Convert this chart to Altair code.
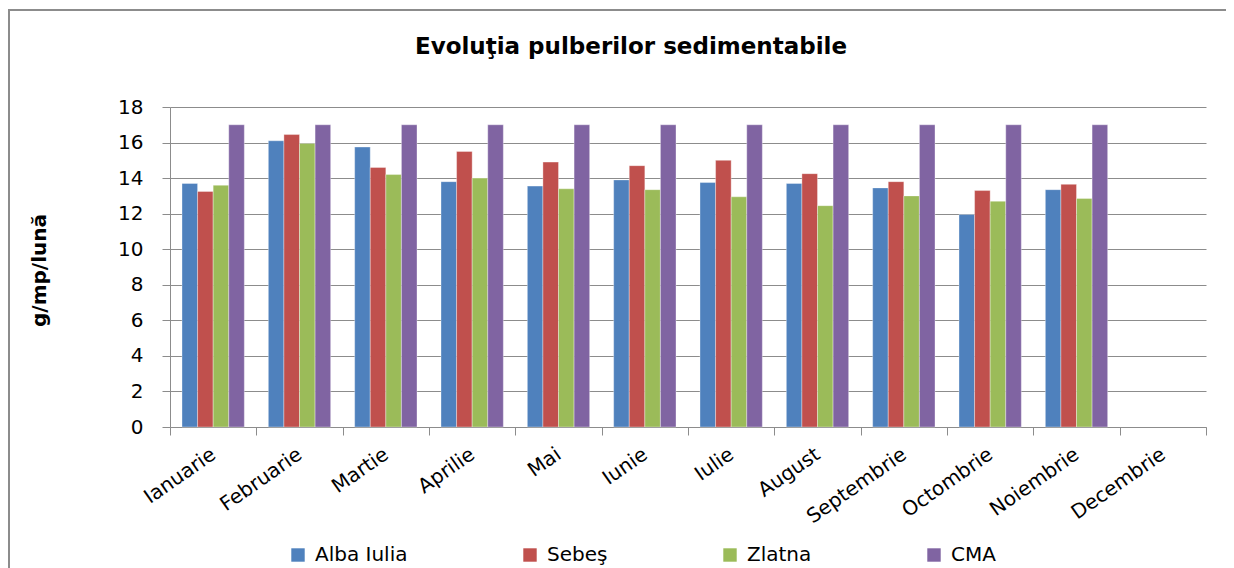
import altair as alt
import pandas as pd

months = ["Ianuarie", "Februarie", "Martie", "Aprilie", "Mai", "Iunie", "Iulie",
          "August", "Septembrie", "Octombrie", "Noiembrie", "Decembrie"]
series = ["Alba Iulia", "Sebeş", "Zlatna", "CMA"]
colors = ["#4F81BD", "#C0504D", "#9BBB59", "#8064A2"]

alba_iulia = [13.7, 16.1, 15.75, 13.8, 13.55, 13.9, 13.75, 13.7, 13.45, 11.95, 13.35, None]
sebes = [13.25, 16.45, 14.6, 15.5, 14.9, 14.7, 15.0, 14.25, 13.8, 13.3, 13.65, None]
zlatna = [13.6, 15.95, 14.2, 14.0, 13.4, 13.35, 12.95, 12.45, 13.0, 12.7, 12.85, None]
cma = [17, 17, 17, 17, 17, 17, 17, 17, 17, 17, 17, None]

title_text = "Evoluţia pulberilor sedimentabile"

values = {"Alba Iulia": alba_iulia, "Sebeş": sebes, "Zlatna": zlatna, "CMA": cma}
rows = []
for s in series:
    for m, v in zip(months, values[s]):
        if v is not None:
            rows.append({"luna": m, "serie": s, "valoare": v})
df = pd.DataFrame(rows)

FONT = "DejaVu Sans"
GRID = "#8c8c8c"

bars = alt.Chart(df).mark_bar(stroke="white", strokeOpacity=0.35, strokeWidth=1).encode(
    x=alt.X("luna:N", sort=months,
            scale=alt.Scale(domain=months, paddingInner=0, paddingOuter=0),
            axis=alt.Axis(title=None, labelAngle=-35, labelAlign="right", labelBaseline="middle",
                          labelPadding=17, labelFont=FONT, labelFontSize=20, labelColor="black",
                          tickBand="extent", tickSize=8, tickColor=GRID, domainColor=GRID,
                          grid=False, labelLimit=0)),
    xOffset=alt.XOffset("serie:N", sort=series,
                        scale=alt.Scale(domain=series, paddingInner=0, paddingOuter=0.77)),
    y=alt.Y("valoare:Q", scale=alt.Scale(domain=[0, 18], nice=False),
            axis=alt.Axis(values=list(range(0, 19, 2)), title="g/mp/lună",
                          titleFont=FONT, titleFontWeight="bold", titleFontSize=20,
                          titleColor="black", titleX=-131, titleY=163, titleAngle=-90,
                          titleAlign="center", titleBaseline="middle",
                          labelFont=FONT, labelFontSize=20, labelColor="black", labelPadding=19,
                          tickSize=8, tickColor=GRID, domainColor=GRID, gridColor=GRID)),
    color=alt.Color("serie:N", sort=series, scale=alt.Scale(domain=series, range=colors),
                    legend=alt.Legend(title=None, orient="none", legendX=118, legendY=438,
                                      direction="horizontal", symbolType="square",
                                      symbolSize=180, symbolStrokeWidth=0,
                                      labelFont=FONT, labelFontSize=20, labelColor="black",
                                      columnPadding=112, labelOffset=7)),
)

one = pd.DataFrame({"t": [title_text]})
title_mark = alt.Chart(one).mark_text(font=FONT, fontSize=23, fontWeight="bold", color="black",
                                      align="center", baseline="alphabetic").encode(
    text="t:N", x=alt.value(461), y=alt.value(-53))
border_left = alt.Chart(one).mark_rule(color=GRID, strokeWidth=2).encode(
    x=alt.value(-161), y=alt.value(-97), y2=alt.value(470))
border_top = alt.Chart(one).mark_rule(color=GRID, strokeWidth=2).encode(
    x=alt.value(-162), x2=alt.value(1080), y=alt.value(-97))

chart = alt.layer(bars, title_mark, border_left, border_top).properties(
    width=1036, height=320,
    padding={"left": 162, "top": 99, "right": 20, "bottom": 141},
    autosize=alt.AutoSizeParams(type="none"),
    background="white",
).configure_view(stroke=None)

chart.save("out.html", embed_options={"renderer": "svg", "actions": False})
